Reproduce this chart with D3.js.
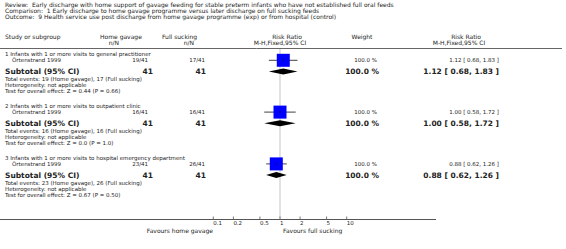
<!DOCTYPE html>
<html>
<head>
<meta charset="utf-8">
<script src="https://cdn.jsdelivr.net/npm/d3@7"></script>
<style>
  body { margin: 0; background: #fff; }
  text { font-family: "DejaVu Sans", sans-serif; fill: #222; white-space: pre; }
</style>
</head>
<body>
<div id="forest"></div>
<script>
// data
const titleLines = [
  "Review:  Early discharge with home support of gavage feeding for stable preterm infants who have not established full oral feeds",
  "Comparison:  1 Early discharge to home gavage programme versus later discharge on full sucking feeds",
  "Outcome:  9 Health service use post discharge from home gavage programme (exp) or from hospital (control)",
];
const groups = [
  "1 Infants with 1 or more visits to general practitioner",
  "2 Infants with 1 or more visits to outpatient clinic",
  "3 Infants with 1 or more visits to hospital emergency department",
];
const studies = ["Örtenstrand 1999", "Örtenstrand 1999", "Örtenstrand 1999"];
const homeEvents = [19, 16, 23];
const homeTotal = [41, 41, 41];
const fullEvents = [17, 16, 26];
const fullTotal = [41, 41, 41];
const riskRatio = [1.12, 1.0, 0.88];
const ciLow = [0.68, 0.58, 0.62];
const ciHigh = [1.83, 1.72, 1.26];
const weights = [100, 100, 100];
const zValues = ["0.44", "0.0", "0.67"];
const pValues = ["0.66", "1.0", "0.50"];
const tickValues = [0.1, 0.2, 0.5, 1, 2, 5, 10];

const width = 566;
const height = 249;
const leftX = 5;

const svg = d3
  .select("#forest")
  .append("svg")
  .attr("width", width)
  .attr("height", height);

const x = d3.scaleLog().domain([0.1, 10]).range([213.3, 346.7]);

// small helper for text
function label(txt, xPos, yPos, size, opts) {
  opts = opts || {};
  return svg
    .append("text")
    .attr("x", xPos)
    .attr("y", yPos)
    .attr("dy", "0.35em")
    .attr("font-size", size + "px")
    .attr("font-weight", opts.bold ? "bold" : "normal")
    .attr("text-anchor", opts.anchor || "start")
    .text(txt);
}

const fmt = d3.format(".2f");

// title block
titleLines.forEach((t, i) => label(t, leftX, 5 + i * 6, 6));

// column headers
label("Study or subgroup", leftX, 37, 6);
label("Home gavage", 100, 37, 6);
label("n/N", 119, 43, 6, { anchor: "end" });
label("Full sucking", 162, 37, 6);
label("n/N", 194, 43, 6, { anchor: "end" });
label("Risk Ratio", 287, 37, 6, { anchor: "middle" });
label("M-H,Fixed,95% CI", 280, 43, 6, { anchor: "middle" });
label("Weight", 362, 37, 6, { anchor: "middle" });
label("Risk Ratio", 466, 37, 6, { anchor: "middle" });
label("M-H,Fixed,95% CI", 459, 43, 6, { anchor: "middle" });

svg
  .append("line")
  .attr("x1", 0)
  .attr("x2", 562)
  .attr("y1", 48.5)
  .attr("y2", 48.5)
  .style("stroke", "#666")
  .style("stroke-width", 1);

// line of no effect
svg
  .append("line")
  .attr("x1", x(1))
  .attr("x2", x(1))
  .attr("y1", 49)
  .attr("y2", 218)
  .style("stroke", "#d8d8d8")
  .style("stroke-width", 1.5);

// each subgroup
groups.forEach((g, i) => {
  const top = 54 + i * 51.8;
  const yStudy = top + 6.3;
  const ySub = top + 17.5;

  label(g, leftX, top, 5.5);
  label(studies[i], 12, yStudy, 5.5);
  label(homeEvents[i] + "/" + homeTotal[i], 148, yStudy, 5.5, { anchor: "end" });
  label(fullEvents[i] + "/" + fullTotal[i], 205, yStudy, 5.5, { anchor: "end" });
  label(weights[i].toFixed(1) + " %", 377, yStudy, 5.5, { anchor: "end" });
  label(
    fmt(riskRatio[i]) + " [ " + fmt(ciLow[i]) + ", " + fmt(ciHigh[i]) + " ]",
    499, yStudy, 5.5, { anchor: "end" }
  );

  // CI line + square
  svg
    .append("line")
    .attr("x1", x(ciLow[i]))
    .attr("x2", x(ciHigh[i]))
    .attr("y1", yStudy)
    .attr("y2", yStudy)
    .style("stroke", "#111")
    .style("stroke-width", 0.8);
  const sq = 13 * Math.sqrt(weights[i] / 100);
  svg
    .append("rect")
    .attr("x", x(riskRatio[i]) - sq / 2)
    .attr("y", yStudy - sq / 2)
    .attr("width", sq)
    .attr("height", sq)
    .style("fill", "#0000ff");
  svg
    .append("line")
    .attr("x1", x(riskRatio[i]))
    .attr("x2", x(riskRatio[i]))
    .attr("y1", yStudy - 1)
    .attr("y2", yStudy + 1)
    .style("stroke", "#111")
    .style("stroke-width", 0.6);

  // subtotal
  label("Subtotal (95% CI)", leftX, ySub, 7.5, { bold: true });
  label(String(homeTotal[i]), 153, ySub, 7.5, { bold: true, anchor: "end" });
  label(String(fullTotal[i]), 206, ySub, 7.5, { bold: true, anchor: "end" });
  label(weights[i].toFixed(1) + " %", 379, ySub, 7.5, { bold: true, anchor: "end" });
  label(
    fmt(riskRatio[i]) + " [ " + fmt(ciLow[i]) + ", " + fmt(ciHigh[i]) + " ]",
    499, ySub, 7.5, { bold: true, anchor: "end" }
  );
  const dh = 3;
  svg
    .append("path")
    .attr(
      "d",
      "M" + x(ciLow[i]) + "," + ySub +
        "L" + x(riskRatio[i]) + "," + (ySub - dh) +
        "L" + x(ciHigh[i]) + "," + ySub +
        "L" + x(riskRatio[i]) + "," + (ySub + dh) + "Z"
    )
    .style("fill", "#000");

  label(
    "Total events: " + homeEvents[i] + " (Home gavage), " + fullEvents[i] + " (Full sucking)",
    leftX, top + 25, 5.5
  );
  label("Heterogeneity: not applicable", leftX, top + 31.2, 5.5);
  label(
    "Test for overall effect: Z = " + zValues[i] + " (P = " + pValues[i] + ")",
    leftX, top + 37.3, 5.5
  );
});

// bottom axis
const axisY = 219.5;
svg
  .append("line")
  .attr("x1", 0)
  .attr("x2", 436)
  .attr("y1", axisY)
  .attr("y2", axisY)
  .style("stroke", "#555")
  .style("stroke-width", 1);

svg
  .selectAll(".tick")
  .data(tickValues)
  .enter()
  .append("line")
  .attr("class", "tick")
  .attr("x1", (d) => x(d))
  .attr("x2", (d) => x(d))
  .attr("y1", axisY - 3)
  .attr("y2", axisY)
  .style("stroke", "#555")
  .style("stroke-width", 0.8);

svg
  .selectAll(".tickLabel")
  .data(tickValues)
  .enter()
  .append("text")
  .attr("class", "tickLabel")
  .attr("x", (d) => x(d))
  .attr("y", axisY + 3.5)
  .attr("dy", "0.35em")
  .attr("font-size", "5.5px")
  .text((d) => String(d));

label("Favours home gavage", 213, 230.7, 6, { anchor: "end" });
label("Favours full sucking", 283, 230.7, 6);
</script>
</body>
</html>
